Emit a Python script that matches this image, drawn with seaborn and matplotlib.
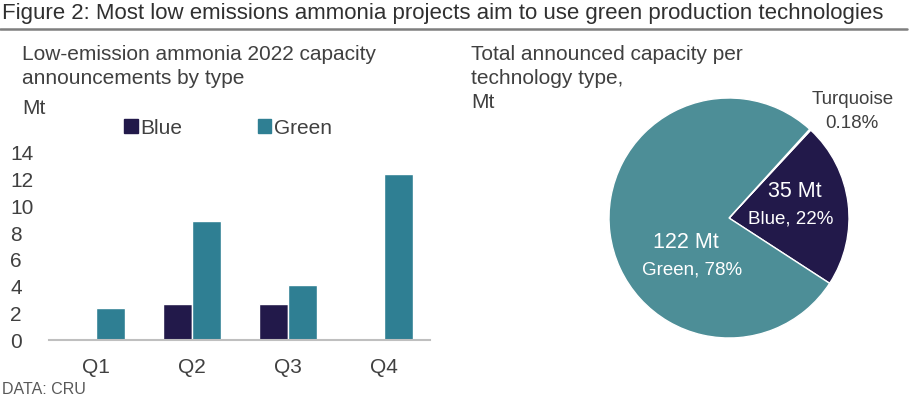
import matplotlib
matplotlib.use("Agg")
import matplotlib.pyplot as plt
import matplotlib.patches as mpatches
import seaborn as sns
import pandas as pd

# ---- data ----
quarters = ["Q1", "Q2", "Q3", "Q4"]
blue_vals = [0.0, 2.7, 2.7, 0.0]
green_vals = [2.4, 8.9, 4.1, 12.4]

pie_labels = ["Blue", "Turquoise", "Green"]
pie_mt = [35, 0.28, 122]
pie_pct_text = ["22%", "0.18%", "78%"]

yticks = [0, 2, 4, 6, 8, 10, 12, 14]

# ---- style ----
sns.set_style("white")
plt.rcParams["font.family"] = ["Liberation Sans", "DejaVu Sans"]
TXT = "#404040"
C_BLUE = "#22194a"
C_GREEN_BAR = "#2f7f93"
C_GREEN_PIE = "#4d8e97"
C_TURQ = "#8cc2c4"

fig = plt.figure(figsize=(9.12, 4.03), dpi=100)

W, H = 912, 403
def fx(px):
    return px / W
def fy(py):
    return 1 - py / H

# title + rule
fig.text(fx(2), fy(14), "Figure 2: Most low emissions ammonia projects aim to use green production technologies",
         fontsize=16, color="#303030", va="center", ha="left")
fig.add_artist(plt.Line2D([0, fx(907)], [fy(29), fy(29)], color="#7f7f7f", lw=1.8))

# ---- bar chart ----
df = pd.DataFrame({
    "Quarter": quarters * 2,
    "Type": ["Blue"] * len(quarters) + ["Green"] * len(quarters),
    "Mt": blue_vals + green_vals,
})
ax = fig.add_axes([fx(49), fy(340), fx(430) - fx(49), fy(153) - fy(340)])
sns.barplot(data=df, x="Quarter", y="Mt", hue="Type", order=quarters,
            hue_order=["Blue", "Green"], palette=[C_BLUE, C_GREEN_BAR],
            width=0.6, ax=ax, saturation=1, legend=False)
ax.set_ylim(0, 14)
ax.set_xlim(-0.49, 3.48)
ax.set_yticks(yticks)
ax.set_xlabel("")
ax.set_ylabel("")
for s in ["top", "right", "left"]:
    ax.spines[s].set_visible(False)
ax.spines["bottom"].set_color("#bfbfbf")
ax.spines["bottom"].set_linewidth(1.5)
ax.tick_params(axis="both", length=0, labelsize=15, colors=TXT)
ax.tick_params(axis="x", pad=13)
for t in ax.get_yticklabels():
    t.set_horizontalalignment("left")
ax.yaxis.set_tick_params(pad=28)

fig.text(fx(22), fy(55), "Low-emission ammonia 2022 capacity", fontsize=15, color=TXT, va="center")
fig.text(fx(22), fy(78), "announcements by type", fontsize=15, color=TXT, va="center")
fig.text(fx(22), fy(108), "Mt", fontsize=15, color=TXT, va="center")
fig.text(fx(2), fy(390), "DATA: CRU", fontsize=11.5, color="#595959", va="center")

handles = [mpatches.Patch(color=C_BLUE, label="Blue"),
           mpatches.Patch(color=C_GREEN_BAR, label="Green")]
fig.legend(handles=handles, loc="center left", bbox_to_anchor=(fx(124), fy(128)),
           ncol=2, frameon=False, fontsize=15, handlelength=0.65, handleheight=0.65,
           handletextpad=0.15, columnspacing=3.6, labelcolor=TXT, borderpad=0,
           borderaxespad=0)

# ---- pie chart ----
axp = fig.add_axes([fx(609), fy(338), fx(849) - fx(609), fy(98) - fy(338)])
axp.pie(pie_mt, colors=[C_BLUE, C_TURQ, C_GREEN_PIE], startangle=-33,
        counterclock=True, radius=1.0)
axp.set_xlim(-1, 1)
axp.set_ylim(-1, 1)
axp.set_aspect("auto")

axp.text(0.55, 0.22, f"{pie_mt[0]} Mt", color="white", fontsize=15.5, ha="center", va="center")
axp.text(0.51, -0.01, f"{pie_labels[0]}, {pie_pct_text[0]}", color="white", fontsize=13.5, ha="center", va="center")
axp.text(-0.36, -0.20, f"{pie_mt[2]} Mt", color="white", fontsize=15.5, ha="center", va="center")
axp.text(-0.31, -0.43, f"{pie_labels[2]}, {pie_pct_text[2]}", color="white", fontsize=13.5, ha="center", va="center")

fig.text(fx(853), fy(100), pie_labels[1], fontsize=13.5, color=TXT, ha="center", va="center")
fig.text(fx(852), fy(123), pie_pct_text[1], fontsize=13.5, color=TXT, ha="center", va="center")

fig.text(fx(471), fy(55), "Total announced capacity per", fontsize=15, color=TXT, va="center")
fig.text(fx(471), fy(78), "technology type,", fontsize=15, color=TXT, va="center")
fig.text(fx(471), fy(102), "Mt", fontsize=15, color=TXT, va="center")

fig.savefig("out.png", dpi=100)
